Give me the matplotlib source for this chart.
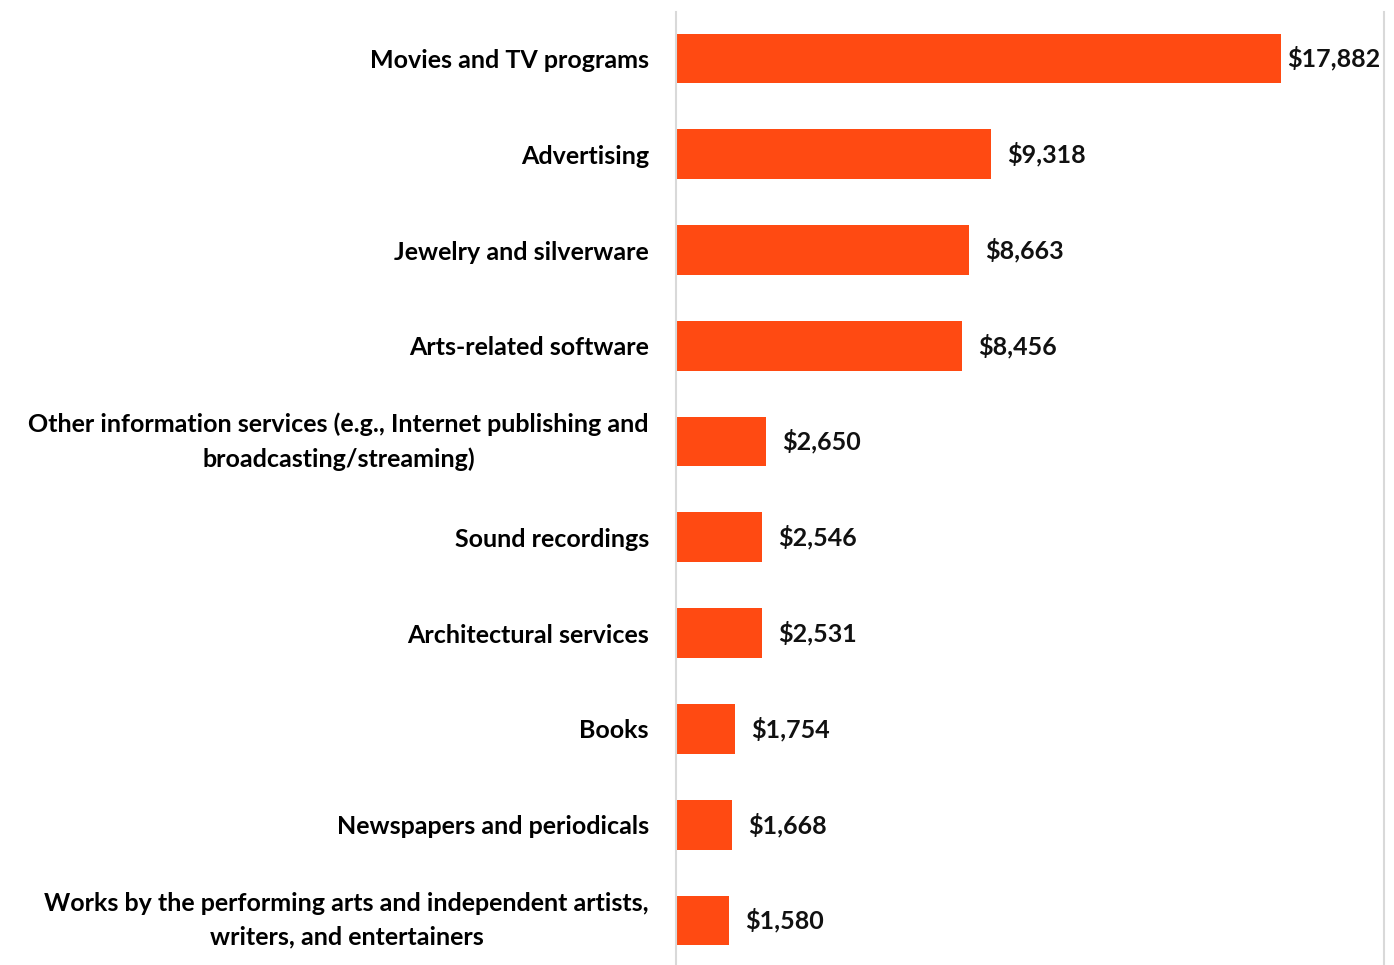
import matplotlib.pyplot as plt

categories = [
    'Movies and TV programs',
    'Advertising',
    'Jewelry and silverware',
    'Arts-related software',
    'Other information services (e.g., Internet publishing and\nbroadcasting/streaming)',
    'Sound recordings',
    'Architectural services',
    'Books',
    'Newspapers and periodicals',
    'Works by the performing arts and independent artists,\nwriters, and entertainers',
]
values = [17882, 9318, 8663, 8456, 2650, 2546, 2531, 1754, 1668, 1580]

plt.rcParams['font.family'] = ['Lato', 'DejaVu Sans']

fig = plt.figure(figsize=(13.94, 9.65), dpi=100)
ax = fig.add_axes([676 / 1394, 0, (1384 - 676) / 1394, (965 - 12) / 965])

pos = range(len(values))
ax.barh(pos, values, height=0.52, color='#FF4A12')
ax.set_ylim(len(values) - 1 + 0.465, -0.485)
xmax = 20926
ax.set_xlim(0, xmax)

ax.set_yticks(list(pos))
ax.set_yticklabels(categories, fontsize=18, fontweight='bold', ha='right',
                   multialignment='center', linespacing=1.55)
for lab in ax.get_yticklabels():
    if '\n' in lab.get_text():
        lab.set_va('center')
ax.tick_params(axis='y', length=0, pad=19.5)
ax.set_xticks([])

px = xmax / 708  # data units per pixel
for i, v in enumerate(values):
    off = 16 * px if v != max(values) else 6 * px
    ax.text(v + off, i, '${:,}'.format(v), va='center', ha='left',
            fontsize=18, fontweight='bold', color='#111111')

for s in ['top', 'bottom']:
    ax.spines[s].set_visible(False)
ax.spines['left'].set_color('#d9d9d9')
ax.spines['left'].set_linewidth(1.5)
ax.spines['right'].set_color('#d9d9d9')
ax.spines['right'].set_linewidth(1.5)

fig.savefig('out.png', dpi=100)
